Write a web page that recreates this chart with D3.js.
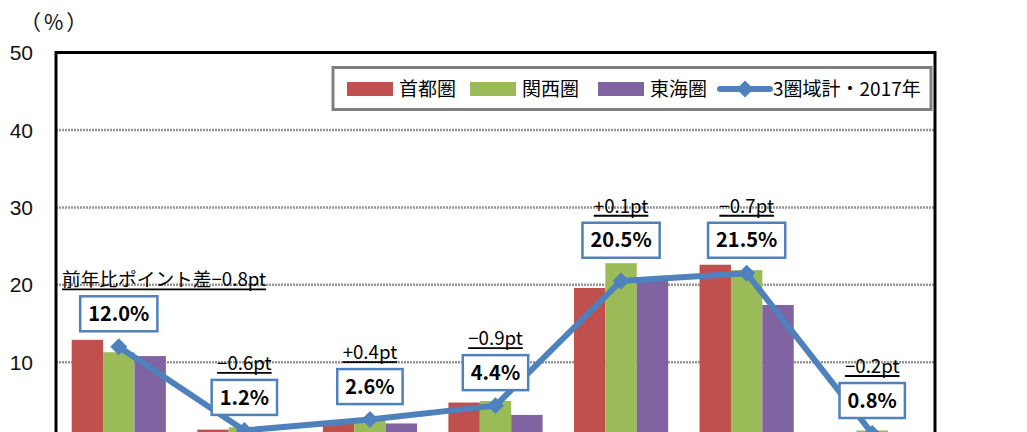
<!DOCTYPE html>
<html><head><meta charset="utf-8">
<script src="https://cdn.jsdelivr.net/npm/d3@7"></script>
<style>
html,body{margin:0;padding:0;background:#fff;}
svg{display:block;}
</style></head>
<body>
<svg id="chart" width="1027" height="432"></svg>
<script>
const categories = ["区分1","区分2","区分3","区分4","区分5","区分6","区分7"];
const seriesNames = ["首都圏","関西圏","東海圏"];
const shutoken = [12.9, 1.3, 2.2, 4.8, 19.6, 22.6, 0.6];
const kansai   = [11.3, 1.6, 2.5, 5.0, 22.8, 21.9, 1.2];
const tokai    = [10.8, 0.9, 2.1, 3.2, 20.6, 17.4, 0.5];
const total    = [12.0, 1.2, 2.6, 4.4, 20.5, 21.5, 0.8];
const totalName = "3圏域計・2017年";
const diffLabels = ["前年比ポイント差−0.8pt","−0.6pt","+0.4pt","−0.9pt","+0.1pt","−0.7pt","−0.2pt"];
const yTicks = [0,10,20,30,40,50];
const unitLabel = "（%）";

const colors = ["#C0504D","#9BBB59","#8064A2"];
const lineColor = "#4F81BD";
const seriesData = [shutoken, kansai, tokai];

const svg = d3.select("#chart");
const L = 56, R = 935, T = 52.6, B = 439.7;

const y = d3.scaleLinear().domain([0,50]).range([B,T]);
const x = d3.scaleBand().domain(categories).range([L,R]).paddingInner(0.25).paddingOuter(0.125);
const xs = d3.scaleBand().domain(seriesNames).range([0,x.bandwidth()]);
const cx = c => x(c) + x.bandwidth()/2;

// gridlines
svg.append("g").selectAll("line").data(yTicks.filter(t=>t>0)).join("line")
  .attr("x1",L).attr("x2",R).attr("y1",d=>y(d)).attr("y2",d=>y(d))
  .attr("stroke","#969696").attr("stroke-width",2.5).attr("stroke-dasharray","2,1");

// y tick labels
svg.append("g").selectAll("text").data(yTicks).join("text")
  .attr("x",33).attr("y",d=>y(d)).attr("dy","0.36em").attr("text-anchor","end")
  .attr("font-family","Liberation Sans, Arial, sans-serif").attr("font-size",21).attr("fill","#111")
  .text(d=>d);

// unit label
svg.append("text").attr("x",20).attr("y",30)
  .attr("font-family","Noto Sans CJK JP").attr("font-size",21).attr("letter-spacing",3)
  .attr("fill","#111").text(unitLabel);

// bars
seriesNames.forEach((s,si)=>{
  svg.append("g").selectAll("rect").data(categories).join("rect")
    .attr("x",c=>x(c)+xs(s)).attr("width",xs.bandwidth())
    .attr("y",(c,i)=>y(seriesData[si][i])).attr("height",(c,i)=>B-y(seriesData[si][i]))
    .attr("fill",colors[si]);
});

// frame
svg.append("path").attr("d",`M${L},${B+5}V${T}H${R}V${B+5}`)
  .attr("fill","none").attr("stroke","#000").attr("stroke-width",3);

// line
const linePts = categories.map((c,i)=>[cx(c), y(total[i])]);
svg.append("path").attr("d",d3.line()(linePts)).attr("fill","none")
  .attr("stroke",lineColor).attr("stroke-width",6).attr("stroke-linejoin","round");
svg.append("g").selectAll("rect").data(linePts).join("rect")
  .attr("x",-6).attr("y",-6).attr("width",12).attr("height",12)
  .attr("transform",d=>`translate(${d[0]},${d[1]}) rotate(45)`)
  .attr("fill",lineColor);

// value boxes
let boxCy = total.map(v=>y(v)-33);
for(let i=0;i<boxCy.length-1;i++){
  if(Math.abs(boxCy[i]-boxCy[i+1])<9){ const m=Math.min(boxCy[i],boxCy[i+1]); boxCy[i]=m; boxCy[i+1]=m; }
}
const boxH = 35;
categories.forEach((c,i)=>{
  const g = svg.append("g");
  const t = g.append("text").attr("x",cx(c)).attr("y",boxCy[i]).attr("dy","0.36em")
    .attr("text-anchor","middle").attr("font-family","Noto Sans CJK JP").attr("font-weight",700)
    .attr("font-size",20).attr("fill","#000").text(total[i].toFixed(1)+"%");
  const w = t.node().getComputedTextLength()+16;
  g.insert("rect","text").attr("x",cx(c)-w/2).attr("y",boxCy[i]-boxH/2).attr("width",w).attr("height",boxH)
    .attr("fill","#fff").attr("stroke",lineColor).attr("stroke-width",2.5);
  const top = boxCy[i]-boxH/2;
  const dt = svg.append("text").attr("y",top-10)
    .attr("font-family","Noto Sans CJK JP").attr("font-size",18.7).attr("fill","#000").text(diffLabels[i]);
  const tw = dt.node().getComputedTextLength();
  let x0;
  if(tw > w){ x0 = L+6; } else { x0 = cx(c)-tw/2; }
  dt.attr("x",x0);
  svg.append("line").attr("x1",x0).attr("x2",x0+tw).attr("y1",top-7).attr("y2",top-7)
    .attr("stroke","#000").attr("stroke-width",1.8);
});

// legend
const lg = svg.append("g");
lg.append("rect").attr("x",333).attr("y",67.5).attr("width",598).attr("height",42)
  .attr("fill","#fff").attr("stroke","#808080").attr("stroke-width",3);
const legendItems = [
  {name:seriesNames[0], type:"bar", color:colors[0], x:347},
  {name:seriesNames[1], type:"bar", color:colors[1], x:470},
  {name:seriesNames[2], type:"bar", color:colors[2], x:598},
  {name:totalName, type:"line", color:lineColor, x:720}
];
legendItems.forEach(it=>{
  if(it.type==="bar"){
    lg.append("rect").attr("x",it.x).attr("y",82).attr("width",46).attr("height",14).attr("fill",it.color);
    lg.append("text").attr("x",it.x+52).attr("y",89).attr("dy","0.36em")
      .attr("font-family","Noto Sans CJK JP").attr("font-size",19).attr("fill","#000").text(it.name);
  } else {
    lg.append("line").attr("x1",it.x).attr("x2",it.x+50).attr("y1",89).attr("y2",89)
      .attr("stroke",it.color).attr("stroke-width",6).attr("stroke-linecap","round");
    lg.append("rect").attr("x",-6).attr("y",-6).attr("width",12).attr("height",12)
      .attr("transform",`translate(${it.x+25},89) rotate(45)`).attr("fill",it.color);
    lg.append("text").attr("x",it.x+53).attr("y",89).attr("dy","0.36em")
      .attr("font-family","Noto Sans CJK JP").attr("font-size",19).attr("fill","#000").text(it.name);
  }
});
</script>
</body></html>
